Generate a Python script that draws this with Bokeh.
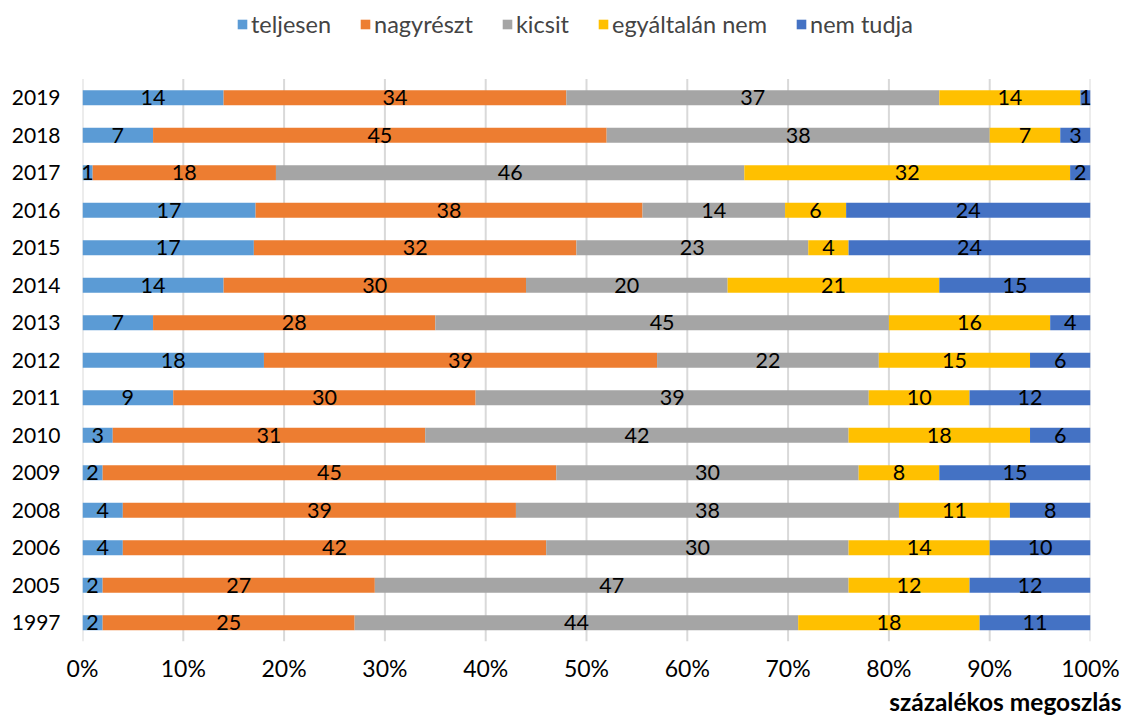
from bokeh.plotting import figure
from bokeh.models import (ColumnDataSource, Legend, LegendItem, Title, Range1d,
                          NumeralTickFormatter, FixedTicker)
from bokeh.core.properties import value
from bokeh.embed import file_html
from bokeh.resources import INLINE

years = ["2019", "2018", "2017", "2016", "2015", "2014", "2013", "2012", "2011",
         "2010", "2009", "2008", "2006", "2005", "1997"]
series_names = ["teljesen", "nagyrészt", "kicsit", "egyáltalán nem", "nem tudja"]
teljesen = [14, 7, 1, 17, 17, 14, 7, 18, 9, 3, 2, 4, 4, 2, 2]
nagyreszt = [34, 45, 18, 38, 32, 30, 28, 39, 30, 31, 45, 39, 42, 27, 25]
kicsit = [37, 38, 46, 14, 23, 20, 45, 22, 39, 42, 30, 38, 30, 47, 44]
egyaltalan_nem = [14, 7, 32, 6, 4, 21, 16, 15, 10, 18, 8, 11, 14, 12, 18]
nem_tudja = [1, 3, 2, 24, 24, 15, 4, 6, 12, 6, 15, 8, 10, 12, 11]
colors = ["#5B9BD5", "#ED7D31", "#A5A5A5", "#FFC000", "#4472C4"]
x_ticks = [0, 0.1, 0.2, 0.3, 0.4, 0.5, 0.6, 0.7, 0.8, 0.9, 1.0]
axis_title = "százalékos megoszlás"

FONT = "Lato"
series = [teljesen, nagyreszt, kicsit, egyaltalan_nem, nem_tudja]
totals = [sum(v) for v in zip(*series)]
n = len(years)
ypos = [n - 1 - i for i in range(n)]          # 2019 at the top

# frame spans the whole height; rows occupy the lower part, legend sits above them
FRAME_H = 641
ROW_PX = 37.5
y_start = -0.5
y_end = y_start + FRAME_H / ROW_PX

p = figure(width=1125, height=718, output_backend="svg", toolbar_location=None,
           x_range=Range1d(0, 1), y_range=Range1d(y_start, y_end),
           min_border_left=82, min_border_right=35, min_border_top=0, min_border_bottom=77)
p.outline_line_color = None
p.xgrid.grid_line_color = None
p.ygrid.grid_line_color = None

# vertical gridlines restricted to the rows area
p.segment(x0=x_ticks, x1=x_ticks, y0=[y_start] * len(x_ticks),
          y1=[n - 0.5] * len(x_ticks), line_color="#d9d9d9", line_width=2)

renderers = []
left = [0.0] * n
for name, vals, col in zip(series_names, series, colors):
    frac = [v / t for v, t in zip(vals, totals)]
    right = [l + f for l, f in zip(left, frac)]
    mid = [(l + r) / 2 for l, r in zip(left, right)]
    src = ColumnDataSource(dict(y=ypos, left=left, right=right, mid=mid,
                                lab=[str(v) for v in vals]))
    r = p.hbar(y="y", left="left", right="right", height=0.4, source=src,
               fill_color=col, line_color=None)
    p.text(x="mid", y="y", text="lab", source=src, text_align="center",
           text_baseline="middle", text_font=value(FONT), text_font_size="21.5px",
           text_color="#000000")
    renderers.append((name, r))
    left = right

# axes
p.xaxis.ticker = FixedTicker(ticks=x_ticks)
p.xaxis.formatter = NumeralTickFormatter(format="0%")
p.yaxis.ticker = FixedTicker(ticks=ypos)
p.yaxis.major_label_overrides = {yp: yr for yp, yr in zip(ypos, years)}
for ax in (p.xaxis[0], p.yaxis[0]):
    ax.axis_line_color = None
    ax.major_tick_line_color = None
    ax.minor_tick_line_color = None
    ax.major_tick_out = 0
    ax.major_tick_in = 0
    ax.major_label_text_font = FONT
    ax.major_label_text_font_size = "21px"
    ax.major_label_text_color = "#000000"
p.xaxis.major_label_text_font_size = "23px"
p.xaxis.major_label_standoff = 12
p.yaxis.major_label_standoff = 22

# axis title, right-aligned below the axis
p.add_layout(Title(text=axis_title, align="right", offset=-31, standoff=0,
                   text_font=FONT, text_font_size="24.5px", text_font_style="bold",
                   text_color="#000000"), "below")

legend = Legend(items=[LegendItem(label=nm, renderers=[r]) for nm, r in renderers],
                orientation="horizontal", location=(154, 603),
                label_text_font=FONT, label_text_font_size="23.5px",
                glyph_width=12, glyph_height=12, label_standoff=3, spacing=28,
                padding=0, margin=0, border_line_color=None, background_fill_alpha=0)
p.add_layout(legend, "center")

open("out.html", "w").write(file_html(p, INLINE))
